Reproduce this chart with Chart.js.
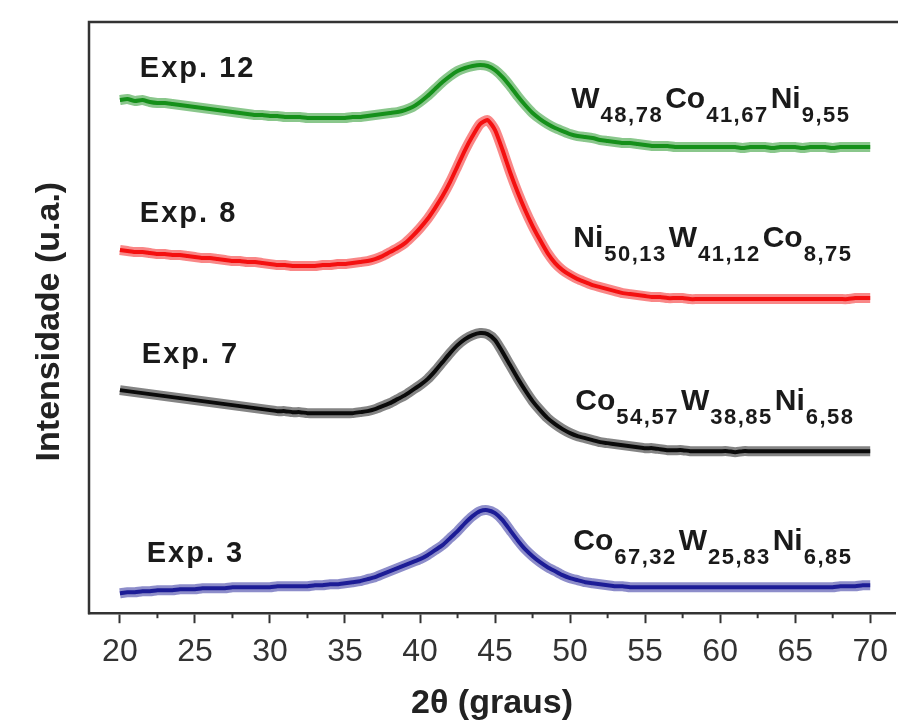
<!DOCTYPE html>
<html>
<head>
<meta charset="utf-8">
<script src="https://cdn.jsdelivr.net/npm/chart.js@4.4.0/dist/chart.umd.min.js"></script>
<style>
  html, body { margin: 0; padding: 0; background: #fff; }
  #xrd { display: block; }
</style>
</head>
<body>
<canvas id="xrd" width="898" height="722"></canvas>
<script>
// 2theta scan (degrees)
var twoTheta = [
    20, 20.5, 21, 21.5, 22, 22.5, 23, 23.5, 24, 24.5,
    25, 25.5, 26, 26.5, 27, 27.5, 28, 28.5, 29, 29.5,
    30, 30.5, 31, 31.5, 32, 32.5, 33, 33.5, 34, 34.5,
    35, 35.5, 36, 36.5, 37, 37.5, 38, 38.5, 39, 39.5,
    40, 40.5, 41, 41.5, 42, 42.5, 43, 43.5, 44, 44.5,
    45, 45.5, 46, 46.5, 47, 47.5, 48, 48.5, 49, 49.5,
    50, 50.5, 51, 51.5, 52, 52.5, 53, 53.5, 54, 54.5,
    55, 55.5, 56, 56.5, 57, 57.5, 58, 58.5, 59, 59.5,
    60, 60.5, 61, 61.5, 62, 62.5, 63, 63.5, 64, 64.5,
    65, 65.5, 66, 66.5, 67, 67.5, 68, 68.5, 69, 69.5,
    70
];

// intensities (u.a., curves already offset as in the figure)
var exp12 = [
    513, 514, 512, 513, 511, 510, 510, 509, 508, 507,
    506, 505, 504, 503, 502, 501, 500, 499, 498, 498,
    497, 497, 496, 496, 496, 495, 495, 495, 495, 495,
    495, 496, 496, 497, 498, 499, 500, 501, 503, 506,
    511, 517, 524, 531, 537, 542, 545, 547, 548, 547,
    543, 536, 527, 517, 508, 500, 494, 489, 485, 482,
    479, 477, 476, 475, 473, 472, 471, 470, 470, 469,
    468, 467, 467, 467, 466, 466, 466, 466, 466, 466,
    466, 466, 466, 465, 466, 466, 466, 465, 466, 466,
    466, 465, 466, 466, 466, 465, 466, 466, 466, 466,
    466
];
var exp8 = [
    363, 362, 361, 361, 360, 359, 359, 358, 358, 357,
    356, 355, 355, 354, 353, 352, 352, 351, 351, 350,
    349, 348, 348, 347, 347, 347, 347, 348, 348, 349,
    349, 350, 351, 352, 354, 357, 361, 365, 370, 377,
    385, 394, 405, 417, 431, 447, 463, 477, 489, 493,
    483, 463, 441, 421, 403, 387, 373, 360, 350, 343,
    338, 334, 331, 328, 326, 324, 322, 320, 319, 318,
    317, 316, 316, 315, 315, 315, 314, 314, 314, 314,
    314, 314, 314, 314, 314, 314, 314, 314, 314, 314,
    314, 314, 314, 314, 314, 314, 314, 314, 315, 315,
    315
];
var exp7 = [
    223, 222, 221, 220, 219, 218, 217, 216, 215, 214,
    213, 212, 211, 210, 209, 208, 207, 206, 205, 204,
    203, 202, 202, 201, 201, 200, 200, 200, 200, 200,
    200, 200, 201, 202, 204, 207, 210, 214, 218, 223,
    228, 234, 242, 251, 260, 268, 274, 278, 280, 279,
    273, 261, 248, 235, 223, 212, 203, 195, 189, 184,
    180, 177, 175, 173, 171, 170, 169, 168, 167, 166,
    165, 165, 164, 163, 163, 163, 162, 162, 162, 162,
    162, 162, 161, 162, 162, 162, 162, 162, 162, 162,
    162, 162, 162, 162, 162, 162, 162, 162, 162, 162,
    162
];
var exp3 = [
    20, 21, 21, 22, 22, 23, 23, 23, 24, 24,
    24, 25, 25, 25, 25, 26, 26, 26, 26, 26,
    26, 27, 27, 27, 27, 27, 28, 28, 29, 29,
    30, 31, 32, 34, 36, 39, 42, 45, 48, 51,
    54, 58, 63, 68, 75, 82, 90, 97, 102, 103,
    100, 93, 83, 73, 64, 57, 51, 46, 42, 38,
    35, 33, 31, 30, 29, 28, 27, 27, 26, 26,
    26, 26, 26, 26, 26, 26, 26, 26, 26, 26,
    26, 26, 26, 26, 26, 26, 26, 26, 26, 26,
    26, 26, 26, 26, 26, 26, 27, 27, 27, 28,
    28
];

var xTicks = [20, 25, 30, 35, 40, 45, 50, 55, 60, 65, 70];
var xMinorTicks = [22.5, 27.5, 32.5, 37.5, 42.5, 47.5, 52.5, 57.5, 62.5, 67.5];

var seriesNames = ['Exp. 12', 'Exp. 8', 'Exp. 7', 'Exp. 3'];
var formulas = [
    [['W', '48,78'], ['Co', '41,67'], ['Ni', '9,55']],
    [['Ni', '50,13'], ['W', '41,12'], ['Co', '8,75']],
    [['Co', '54,57'], ['W', '38,85'], ['Ni', '6,58']],
    [['Co', '67,32'], ['W', '25,83'], ['Ni', '6,85']]
];

var FONT = '"Liberation Sans", Arial, sans-serif';
var colors = ['#15901a', '#f41010', '#0a0a0a', '#1c1c96'];
var seriesData = [exp12, exp8, exp7, exp3];

function toPoints(values) {
    return twoTheta.map(function (t, i) { return { x: t, y: values[i] }; });
}

function hexAlpha(hex, a) {
    var r = parseInt(hex.substr(1, 2), 16), g = parseInt(hex.substr(3, 2), 16), b = parseInt(hex.substr(5, 2), 16);
    return 'rgba(' + r + ',' + g + ',' + b + ',' + a + ')';
}

var dataSets = [];
seriesData.forEach(function (values, k) {
    // soft halo to give the noisy band its width
    dataSets.push({
        label: seriesNames[k] + ' band',
        data: toPoints(values),
        borderColor: hexAlpha(colors[k], 0.5),
        borderWidth: 10,
        pointRadius: 0,
        tension: 0.2
    });
    dataSets.push({
        label: seriesNames[k],
        data: toPoints(values),
        borderColor: colors[k],
        borderWidth: 4,
        pointRadius: 0,
        tension: 0.2
    });
});

// anchors in data units: [2theta, intensity]
var expAnchors = [[21.33, 536], [21.33, 391], [21.46, 250], [21.79, 51]];
var formulaAnchors = [[50.08, 505], [50.21, 366], [50.35, 203], [50.21, 63]];

function drawFormula(ctx, parts, x, y) {
    parts.forEach(function (p) {
        ctx.font = 'bold 30px ' + FONT;
        ctx.fillText(p[0], x, y);
        x += ctx.measureText(p[0]).width + 1;
        ctx.font = 'bold 22px ' + FONT;
        for (var i = 0; i < p[1].length; i++) {
            ctx.fillText(p[1][i], x, y + 14);
            x += ctx.measureText(p[1][i]).width + 1.5;
        }
        x += 2;
    });
}

var xrdText = {
    id: 'xrdText',
    afterDraw: function (chart) {
        var ctx = chart.ctx, area = chart.chartArea;
        var xs = chart.scales.x, ys = chart.scales.y;
        ctx.save();

        // frame (left and top)
        ctx.strokeStyle = '#333';
        ctx.lineWidth = 2.5;
        ctx.beginPath();
        ctx.moveTo(area.left, area.bottom + 1);
        ctx.lineTo(area.left, area.top);
        ctx.lineTo(chart.width, area.top);
        ctx.stroke();

        // minor ticks
        ctx.lineWidth = 2;
        xMinorTicks.forEach(function (v) {
            var px = xs.getPixelForValue(v);
            ctx.beginPath();
            ctx.moveTo(px, area.bottom);
            ctx.lineTo(px, area.bottom + 5);
            ctx.stroke();
        });

        ctx.fillStyle = '#1a1a1a';
        ctx.textBaseline = 'alphabetic';
        ctx.textAlign = 'left';

        seriesNames.forEach(function (name, k) {
            var px = xs.getPixelForValue(expAnchors[k][0]);
            var py = ys.getPixelForValue(expAnchors[k][1]);
            ctx.font = 'bold 29px ' + FONT;
            var cx = px;
            for (var i = 0; i < name.length; i++) {
                ctx.fillText(name[i], cx, py);
                cx += ctx.measureText(name[i]).width + 2;
            }
        });

        formulas.forEach(function (parts, k) {
            drawFormula(ctx, parts,
                xs.getPixelForValue(formulaAnchors[k][0]),
                ys.getPixelForValue(formulaAnchors[k][1]));
        });

        // y axis title
        ctx.save();
        ctx.translate(50, (area.top + area.bottom) / 2 + 4);
        ctx.rotate(-Math.PI / 2);
        ctx.textAlign = 'center';
        ctx.textBaseline = 'middle';
        ctx.font = 'bold 34px ' + FONT;
        ctx.fillStyle = '#222';
        ctx.fillText('Intensidade (u.a.)', 0, 0);
        ctx.restore();

        ctx.restore();
    }
};

var ctx = document.getElementById('xrd').getContext('2d');
var xrdChart = new Chart(ctx, {
    type: 'line',
    data: { datasets: dataSets },
    options: {
        responsive: false,
        animation: false,
        layout: {
            padding: { left: 89, top: 22, right: 0, bottom: 0 }
        },
        scales: {
            x: {
                type: 'linear',
                min: 17.94,
                max: 71.66,
                afterBuildTicks: function (scale) {
                    scale.ticks = xTicks.map(function (v) { return { value: v }; });
                },
                border: { display: true, color: '#333', width: 2.5 },
                grid: {
                    display: true,
                    drawOnChartArea: false,
                    drawTicks: true,
                    tickLength: 10,
                    tickWidth: 2,
                    tickColor: '#333'
                },
                ticks: {
                    color: '#333',
                    padding: 10,
                    maxRotation: 0,
                    autoSkip: false,
                    font: { family: FONT, size: 32 }
                },
                title: {
                    display: true,
                    text: '2\u03b8 (graus)',
                    color: '#222',
                    padding: { top: 3, bottom: 0 },
                    font: { family: FONT, size: 34, weight: 'bold', lineHeight: 1.1 }
                }
            },
            y: {
                display: false,
                min: 0,
                max: 591
            }
        },
        plugins: {
            legend: { display: false },
            tooltip: { enabled: false }
        }
    },
    plugins: [xrdText]
});
</script>
</body>
</html>
